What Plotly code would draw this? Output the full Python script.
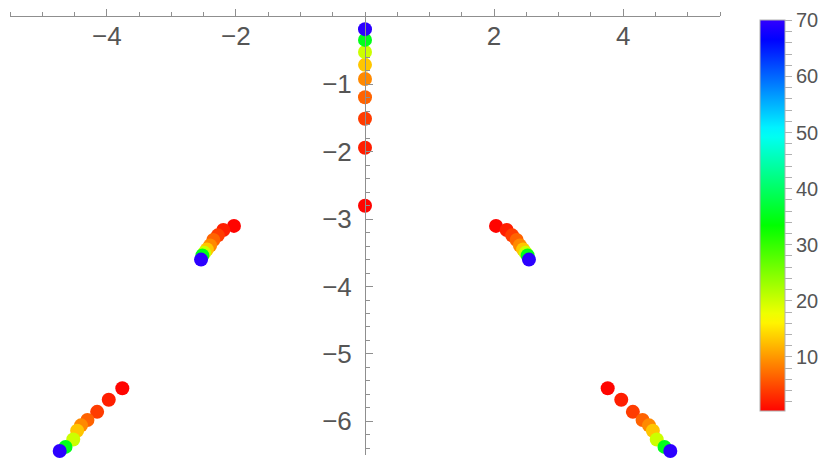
import colorsys
import plotly.graph_objects as go

# parameter value of each point (drives the colour)
t_values = [0.3, 2, 4, 6.5, 9, 13, 20, 35, 69.6]

# branch on the imaginary axis
center_x = [0, 0, 0, 0, 0, 0, 0, 0, 0]
center_y = [-2.80, -1.94, -1.51, -1.19, -0.92, -0.71, -0.52, -0.34, -0.18]

# middle pair of branches
mid_right_x = [2.03, 2.195, 2.28, 2.35, 2.40, 2.45, 2.49, 2.52, 2.54]
mid_left_x = [-2.03, -2.195, -2.28, -2.35, -2.40, -2.45, -2.49, -2.52, -2.54]
mid_y = [-3.10, -3.16, -3.24, -3.31, -3.39, -3.45, -3.50, -3.54, -3.60]

# lower pair of branches
low_right_x = [3.76, 3.97, 4.15, 4.30, 4.40, 4.46, 4.52, 4.64, 4.73]
low_left_x = [-3.76, -3.97, -4.15, -4.30, -4.40, -4.46, -4.52, -4.64, -4.73]
low_y = [-5.51, -5.68, -5.86, -5.98, -6.06, -6.14, -6.27, -6.38, -6.44]

x_ticks = [-4, -2, 2, 4]
y_ticks = [-1, -2, -3, -4, -5, -6]
cbar_ticks = list(range(2, 71, 2))
cbar_labels = [str(v) if v % 10 == 0 else "" for v in cbar_ticks]

C_MIN, C_MAX = 0.3, 70
AXIS_GREY = "#8f8f8f"
LABEL_GREY = "#555555"
FONT = "Liberation Sans, Arial, sans-serif"


def hue_scale(c_min, c_max, steps=40):
    # Mathematica style Hue[v/100] colouring
    scale = []
    for i in range(steps + 1):
        f = i / steps
        v = c_min + f * (c_max - c_min)
        r, g, b = colorsys.hsv_to_rgb((v / 100) % 1.0, 1.0, 1.0)
        scale.append([f, f"rgb({int(r * 255)},{int(g * 255)},{int(b * 255)})"])
    return scale


branches = [
    (center_x, center_y),
    (mid_left_x, mid_y),
    (mid_right_x, mid_y),
    (low_left_x, low_y),
    (low_right_x, low_y),
]

fig = go.Figure()
for bx, by in branches:
    fig.add_trace(go.Scatter(
        x=bx,
        y=by,
        mode="markers",
        marker=dict(size=14, color=t_values, coloraxis="coloraxis",
                    line=dict(width=0)),
        cliponaxis=False,
        showlegend=False,
        hoverinfo="x+y",
    ))

# the page body adds an 8px margin, so the figure is 16px smaller
fig.update_layout(
    width=823,
    height=458,
    margin=dict(l=2, r=111, t=9, b=11, autoexpand=False),
    paper_bgcolor="white",
    plot_bgcolor="white",
    font=dict(family=FONT, color=LABEL_GREY),
    coloraxis=dict(
        cmin=C_MIN,
        cmax=C_MAX,
        colorscale=hue_scale(C_MIN, C_MAX),
        colorbar=dict(
            x=1.057, xanchor="left", xpad=0,
            y=0.546, yanchor="middle", ypad=0,
            lenmode="pixels", len=391,
            thickness=25,
            outlinecolor="#b0b0b0", outlinewidth=1,
            tickmode="array", tickvals=cbar_ticks, ticktext=cbar_labels,
            ticks="outside", ticklen=7, tickcolor="#b0b0b0",
            tickfont=dict(size=20, color=LABEL_GREY, family=FONT),
        ),
    ),
    xaxis=dict(
        range=[-5.5, 5.5],
        side="top",
        automargin=False,
        showgrid=False, zeroline=False,
        showline=True, linecolor=AXIS_GREY, linewidth=1,
        tickmode="array", tickvals=x_ticks,
        ticks="outside", ticklen=7, tickcolor=AXIS_GREY,
        ticklabelposition="inside", ticklabelstandoff=12,
        tickfont=dict(size=26, color=LABEL_GREY, family=FONT),
        minor=dict(dtick=0.5, ticks="outside", ticklen=4, tickcolor=AXIS_GREY),
    ),
    yaxis=dict(
        range=[-6.5, 0],
        anchor="free", position=0.5,
        automargin=False,
        showgrid=False, zeroline=False,
        showline=True, linecolor=AXIS_GREY, linewidth=1,
        tickmode="array", tickvals=y_ticks,
        ticks="inside", ticklen=7, tickcolor=AXIS_GREY,
        ticklabelstandoff=8,
        tickfont=dict(size=26, color=LABEL_GREY, family=FONT),
        minor=dict(dtick=0.2, ticks="inside", ticklen=4, tickcolor=AXIS_GREY),
    ),
)

fig.write_html("out.html")
